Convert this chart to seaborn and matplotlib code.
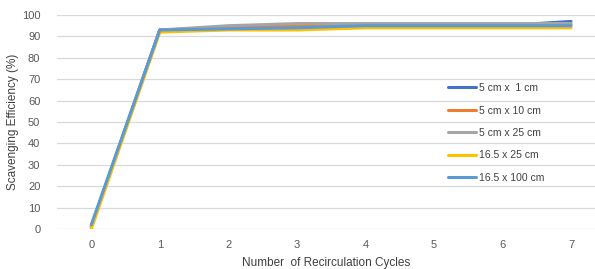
import matplotlib
matplotlib.use("Agg")
import matplotlib.pyplot as plt
import numpy as np
import pandas as pd
import seaborn as sns

cycles = [0, 1, 2, 3, 4, 5, 6, 7]
series_names = ["5 cm x  1 cm", "5 cm x 10 cm", "5 cm x 25 cm", "16.5 x 25 cm", "16.5 x 100 cm"]
eff_5x1 = [1, 93, 94, 94.5, 95, 95, 95, 97]
eff_5x10 = [1, 93, 94, 95, 95, 95, 95, 95.5]
eff_5x25 = [1, 93, 95, 96, 96, 96, 96, 96]
eff_165x25 = [0, 92, 93, 93, 94, 94, 94, 94]
eff_165x100 = [2, 93, 93.5, 94, 95, 95, 95, 95]
colors = ["#4472C4", "#ED7D31", "#A5A5A5", "#FFC000", "#5B9BD5"]

rows = []
for name, vals in zip(series_names, [eff_5x1, eff_5x10, eff_5x25, eff_165x25, eff_165x100]):
    for c, v in zip(cycles, vals):
        rows.append({"cycle": c, "eff": v, "series": name})
df = pd.DataFrame(rows)

sns.set_style("white")
plt.rcParams["font.family"] = ["Liberation Sans", "DejaVu Sans"]
plt.rcParams["font.size"] = 8

fig = plt.figure(figsize=(5.95, 2.69), dpi=100)
ax = fig.add_axes([57 / 595, 1 - 229 / 269, 1 - 57 / 595, (229 - 15) / 269])
sns.lineplot(data=df, x="cycle", y="eff", hue="series", palette=colors,
             hue_order=series_names, linewidth=2.2, ax=ax)

ax.set_xlim(-0.5, 7.35)
ax.set_ylim(0, 100)
ax.set_yticks(np.arange(0, 101, 10))
ax.set_xticks(cycles)
ax.grid(axis="y", color="#D9D9D9", linewidth=0.9)
ax.set_axisbelow(True)
for s in ax.spines.values():
    s.set_visible(False)
ax.tick_params(axis="both", length=0, colors="#595959", labelsize=8)
ax.tick_params(axis="x", pad=8)
ax.tick_params(axis="y", pad=12)
ax.set_xlabel("Number  of Recirculation Cycles", color="#404040", fontsize=8.5)
ax.set_ylabel("Scavenging Efficiency (%)", color="#404040", fontsize=8.5, labelpad=2)
ax.xaxis.set_label_coords(0.5, -0.13)

leg = ax.legend(frameon=False, loc="upper left",
                bbox_to_anchor=(448 / 595, 1 - 83 / 269), bbox_transform=fig.transFigure,
                fontsize=7.5, handlelength=2.7, labelspacing=1.2, handletextpad=0.25,
                borderaxespad=0, borderpad=0)
for t in leg.get_texts():
    t.set_color("#404040")

fig.savefig("out.png", dpi=100)
